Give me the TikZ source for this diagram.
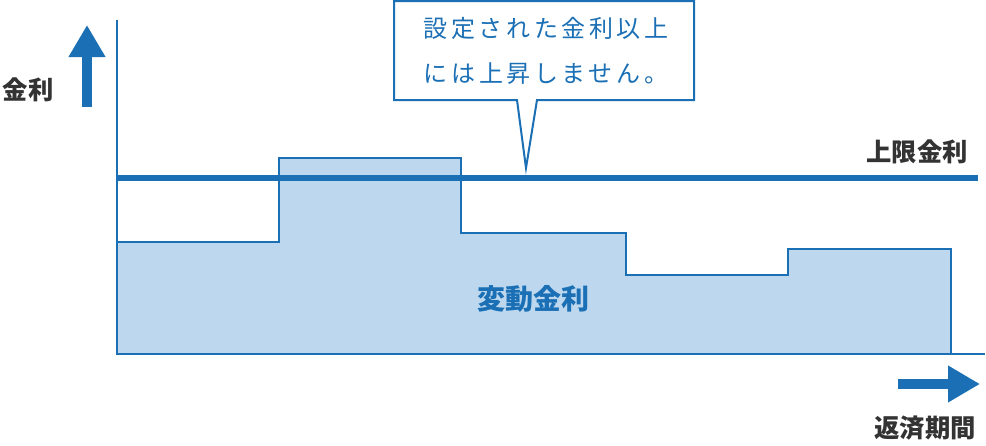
\documentclass[tikz,border=0pt]{standalone}
\usepackage{fontspec}
\newfontfamily\jp{Noto Sans CJK JP}
\newfontfamily\jpwide[LetterSpace=15]{Noto Sans CJK JP}
\usetikzlibrary{arrows.meta}
\definecolor{capblue}{RGB}{26,111,181}
\definecolor{ratefill}{RGB}{189,216,238}
\definecolor{labelgray}{RGB}{51,51,51}
\tikzset{
  axisline/.style={draw=capblue, line width=1pt},
  bigarrow/.style={draw=capblue, line width=7pt, -{Triangle[length=24pt,width=26pt]}},
  label/.style={font=\jp\fontsize{19}{21}\selectfont\bfseries, text=labelgray},
}
\begin{document}
\begin{tikzpicture}[x=0.75pt,y=0.75pt,yscale=-1,xscale=1]
\useasboundingbox (0,0) rectangle (986,446);

% rate steps
\draw [axisline, fill=ratefill] (117,354) -- (117,242) -- (279,242) -- (279,158) -- (461,158) -- (461,233) -- (626,233) -- (626,275) -- (788,275) -- (788,249) -- (951,249) -- (951,354) ;

% axes
\coordinate (ytop) at (117,20);
\coordinate (orig) at (117,354);
\coordinate (xend) at (985,354);
\draw [axisline] (ytop) -- (orig) -- (xend) ;

% cap line
\coordinate (capl) at (117,178);
\coordinate (capr) at (978,178);
\draw [draw=capblue, line width=4pt] (capl) -- (capr) ;

% arrows
\coordinate (ua) at (87,107);
\coordinate (ub) at (87,25);
\draw [bigarrow] (ua) -- (ub) ;
\coordinate (ra) at (898,384);
\coordinate (rb) at (980,384);
\draw [bigarrow] (ra) -- (rb) ;

% callout
\draw [axisline, line width=1.5pt, fill=white] (394,1) -- (694,1) -- (694,100) -- (537,100) -- (526,168) -- (517,100) -- (394,100) -- cycle ;
\node (note) [align=center, text=capblue, font=\jpwide\fontsize{18}{34}\selectfont] at (546,51) {設定された金利以上\\には上昇しません。};

% labels
\node (ylab) [label] at (28,90) {金利};
\node (caplab) [label] at (917,152) {上限金利};
\node (ratelab) [label, text=capblue, font=\jp\fontsize{21}{23}\selectfont\bfseries] at (533,299) {変動金利};
\node (xlab) [label] at (925,428) {返済期間};
\end{tikzpicture}
\end{document}
